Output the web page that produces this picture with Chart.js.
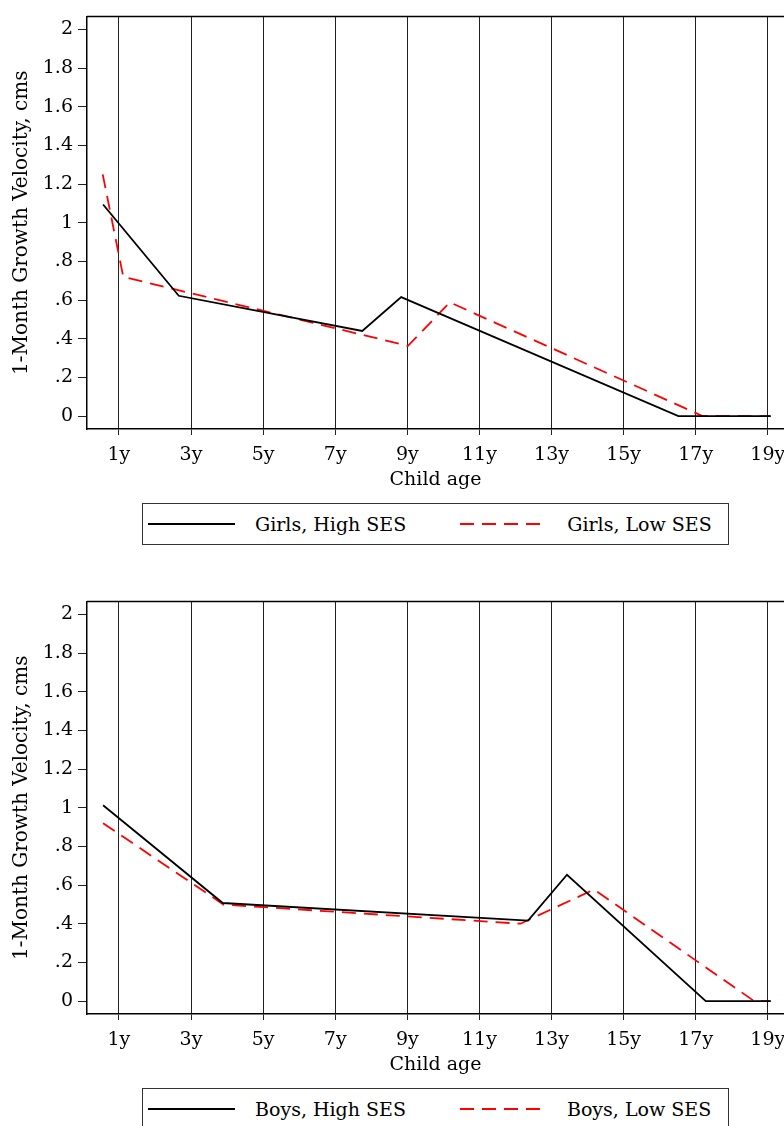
<!DOCTYPE html>
<html>
<head>
<meta charset="utf-8">
<script src="https://cdn.jsdelivr.net/npm/chart.js@4.4.1/dist/chart.umd.min.js"></script>
<style>
  html, body { margin: 0; padding: 0; background: #fff; overflow: hidden; }
  body { width: 784px; height: 1126px; position: relative; }
  .panel { position: absolute; left: 0; width: 784px; height: 500px; }
  .legend {
    position: absolute; left: 142px; width: 587px; height: 42px;
    box-sizing: border-box; border: 1px solid #333;
    display: flex; align-items: center; padding-left: 5px;
    font: 19px "DejaVu Serif", serif; color: #000;
  }
  .legend .item { display: flex; align-items: center; }
  .legend .item + .item { margin-left: 54px; }
  .legend svg { display: block; }
  .legend span { margin-left: 20px; white-space: nowrap; }
</style>
</head>
<body>
<div class="panel" style="top:0"><canvas id="chartGirls" width="784" height="500"></canvas></div>
<div class="legend" id="legendGirls" style="top:503px"></div>
<div class="panel" style="top:585px"><canvas id="chartBoys" width="784" height="500"></canvas></div>
<div class="legend" id="legendBoys" style="top:1088px"></div>

<script>
// Datos (edad en años, velocidad en cm)
const xTicks = [1, 3, 5, 7, 9, 11, 13, 15, 17, 19];
const yTicks = [0, 0.2, 0.4, 0.6, 0.8, 1, 1.2, 1.4, 1.6, 1.8, 2];

const girlsHighAge = [0.56, 2.66, 7.75, 8.83, 16.52, 19.08];
const girlsHighVel = [1.094, 0.622, 0.44, 0.615, 0, 0];
const girlsLowAge = [0.55, 1.12, 9.02, 10.18, 17.19, 19.08];
const girlsLowVel = [1.25, 0.72, 0.363, 0.588, 0, 0];

const boysHighAge = [0.56, 3.88, 12.35, 13.43, 17.28, 19.08];
const boysHighVel = [1.013, 0.507, 0.416, 0.653, 0, 0];
const boysLowAge = [0.56, 3.9, 12.14, 14.18, 18.62, 19.08];
const boysLowVel = [0.92, 0.499, 0.40, 0.577, 0, 0];

const FONT = '"DejaVu Serif", serif';
const FSIZE = 19;

function pts(xs, ys) {
  return xs.map((x, i) => ({ x: x, y: ys[i] }));
}

function yLabel(v) {
  const s = Number(v.toFixed(1)).toString();
  return s.replace(/^0\./, '.');
}

// borde superior del área de trazado
const topBorder = {
  id: 'topBorder',
  afterDraw(chart) {
    const { ctx, chartArea } = chart;
    ctx.save();
    ctx.strokeStyle = '#000';
    ctx.lineWidth = 1.5;
    ctx.beginPath();
    ctx.moveTo(chartArea.left, chartArea.top);
    ctx.lineTo(chartArea.right, chartArea.top);
    ctx.stroke();
    ctx.restore();
  }
};

function makeChart(id, legendId, labels, high, low) {
  const ctx = document.getElementById(id);
  const chart = new Chart(ctx.getContext('2d'), {
    type: 'line',
    data: {
      datasets: [
        {
          label: labels[0],
          data: high,
          borderColor: '#000',
          borderWidth: 1.8,
          pointRadius: 0,
          tension: 0,
          fill: false
        },
        {
          label: labels[1],
          data: low,
          borderColor: '#ff0000',
          borderWidth: 1.8,
          borderDash: [14, 8],
          pointRadius: 0,
          tension: 0,
          fill: false
        }
      ]
    },
    options: {
      responsive: false,
      animation: false,
      layout: { padding: { top: 14, left: 0, right: 0, bottom: 0 } },
      plugins: {
        legend: { display: false },
        tooltip: { enabled: false }
      },
      scales: {
        x: {
          type: 'linear',
          min: 0.114,
          max: 19.45,
          afterBuildTicks: s => { s.ticks = xTicks.map(v => ({ value: v })); },
          afterFit: s => { s.height = 71; s.paddingRight = 0; s.paddingLeft = 0; },
          ticks: {
            color: '#000',
            padding: 9,
            maxRotation: 0,
            font: { family: FONT, size: FSIZE },
            callback: v => v + 'y'
          },
          grid: {
            color: '#222',
            lineWidth: 1,
            drawOnChartArea: true,
            drawTicks: true,
            tickLength: 6
          },
          border: { display: true, color: '#000', width: 1.5 },
          title: {
            display: true,
            text: 'Child age',
            color: '#000',
            padding: { top: 0, bottom: 9 },
            font: { family: FONT, size: FSIZE }
          }
        },
        y: {
          min: -0.067,
          max: 2.067,
          afterBuildTicks: s => { s.ticks = yTicks.map(v => ({ value: v })); },
          afterFit: s => { s.width = 87; },
          ticks: {
            color: '#000',
            padding: 5,
            font: { family: FONT, size: FSIZE },
            callback: v => yLabel(v)
          },
          grid: {
            color: '#222',
            drawOnChartArea: false,
            drawTicks: true,
            tickLength: 9
          },
          border: { display: true, color: '#000', width: 1.5 },
          title: {
            display: true,
            text: '1-Month Growth Velocity, cms',
            color: '#000',
            padding: { top: 10, bottom: 0 },
            font: { family: FONT, size: 20 }
          }
        }
      }
    },
    plugins: [topBorder]
  });

  // Leyenda en HTML con caja
  const legend = document.getElementById(legendId);
  chart.data.datasets.forEach(ds => {
    const item = document.createElement('div');
    item.className = 'item';
    const dash = ds.borderDash ? ds.borderDash.join(' ') : 'none';
    item.innerHTML =
      `<svg width="87" height="6"><line x1="0" y1="3" x2="87" y2="3" stroke="${ds.borderColor}" stroke-width="2" stroke-dasharray="${dash}"/></svg>` +
      `<span>${ds.label}</span>`;
    legend.appendChild(item);
  });
  return chart;
}

makeChart('chartGirls', 'legendGirls', ['Girls, High SES', 'Girls, Low SES'],
  pts(girlsHighAge, girlsHighVel), pts(girlsLowAge, girlsLowVel));
makeChart('chartBoys', 'legendBoys', ['Boys, High SES', 'Boys, Low SES'],
  pts(boysHighAge, boysHighVel), pts(boysLowAge, boysLowVel));
</script>
</body>
</html>
